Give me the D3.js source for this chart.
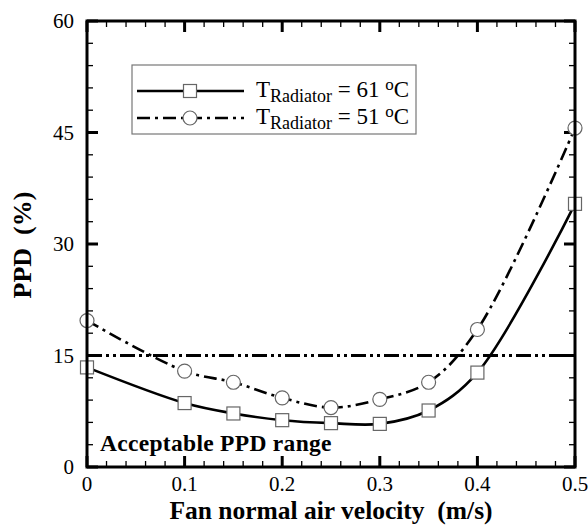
<!DOCTYPE html>
<html>
<head>
<meta charset="utf-8">
<script src="https://cdn.jsdelivr.net/npm/d3@7"></script>
<style>
  html, body { margin: 0; padding: 0; background: #fff; overflow: hidden; }
  text { font-family: "Liberation Serif", "Times New Roman", serif; }
</style>
</head>
<body>
<svg width="588" height="525"></svg>
<script>
// velocities (m/s)
var velocity = [0, 0.1, 0.15, 0.2, 0.25, 0.3, 0.35, 0.4, 0.5]
// PPD (%) for each radiator temperature
var ppd61 = [13.4, 8.6, 7.2, 6.3, 5.9, 5.8, 7.6, 12.7, 35.4]
var ppd51 = [19.7, 12.9, 11.4, 9.3, 8.0, 9.1, 11.4, 18.5, 45.6]
var acceptable = 15
var xTicks = [0, 0.1, 0.2, 0.3, 0.4, 0.5]
var yTicks = [0, 15, 30, 45, 60]

var svg = d3.select("svg")
var plotL = 87, plotR = 575, plotT = 21, plotB = 467

var x = d3.scaleLinear().domain([0, 0.5]).range([plotL, plotR])
var y = d3.scaleLinear().domain([0, 60]).range([plotB, plotT])

var xMinor = d3.range(0, 0.5001, 0.02)
var yMinor = d3.range(0, 60.001, 3)

//minor ticks, all four sides, pointing in
var ticks = svg.append("g").attr("stroke", "#000").attr("stroke-width", 1.3)
xMinor.forEach(function (v) {
  ticks.append("line").attr("x1", x(v)).attr("x2", x(v)).attr("y1", plotB).attr("y2", plotB - 6)
  ticks.append("line").attr("x1", x(v)).attr("x2", x(v)).attr("y1", plotT).attr("y2", plotT + 6)
})
yMinor.forEach(function (v) {
  ticks.append("line").attr("y1", y(v)).attr("y2", y(v)).attr("x1", plotL).attr("x2", plotL + 6)
  ticks.append("line").attr("y1", y(v)).attr("y2", y(v)).attr("x1", plotR).attr("x2", plotR - 6)
})
//major ticks
var major = svg.append("g").attr("stroke", "#000").attr("stroke-width", 3)
xTicks.forEach(function (v) {
  major.append("line").attr("x1", x(v)).attr("x2", x(v)).attr("y1", plotB).attr("y2", plotB - 11)
  major.append("line").attr("x1", x(v)).attr("x2", x(v)).attr("y1", plotT).attr("y2", plotT + 11)
})
yTicks.forEach(function (v) {
  major.append("line").attr("y1", y(v)).attr("y2", y(v)).attr("x1", plotL).attr("x2", plotL + 11)
  major.append("line").attr("y1", y(v)).attr("y2", y(v)).attr("x1", plotR).attr("x2", plotR - 11)
})

//tick labels
svg.append("g").selectAll("text").data(xTicks).join("text")
    .attr("x", d => x(d)).attr("y", plotB + 24)
    .attr("text-anchor", "middle").style("font-size", "21px")
    .text(d => d3.format("")(d))
svg.append("g").selectAll("text").data(yTicks).join("text")
    .attr("x", plotL - 13).attr("y", d => y(d) + 7)
    .attr("text-anchor", "end").style("font-size", "21px")
    .text(d => d)

//axis titles
svg.append("text").attr("x", 331).attr("y", 519)
    .attr("text-anchor", "middle")
    .style("font-size", "25.5px").style("font-weight", "bold")
    .attr("xml:space", "preserve")
    .text("Fan normal air velocity  (m/s)")
svg.append("text")
    .attr("transform", "translate(31,245) rotate(-90)")
    .attr("text-anchor", "middle")
    .style("font-size", "26px").style("font-weight", "bold")
    .attr("xml:space", "preserve")
    .text("PPD  (%)")

//acceptable limit line
svg.append("line")
    .attr("x1", x(0)).attr("x2", x(0.5)).attr("y1", y(acceptable)).attr("y2", y(acceptable))
    .attr("stroke", "#000").attr("stroke-width", 2.8)
    .attr("stroke-dasharray", "15,4,3,4,3,4")
svg.append("text").attr("x", 100).attr("y", 451)
    .style("font-size", "23.5px").style("font-weight", "bold")
    .style("letter-spacing", "0.3px")
    .text("Acceptable PPD range")

//curves
var line = d3.line().x(d => x(d[0])).y(d => y(d[1])).curve(d3.curveCatmullRom.alpha(0.5))
svg.append("path").datum(d3.zip(velocity, ppd61))
    .attr("d", line).attr("fill", "none").attr("stroke", "#000").attr("stroke-width", 2.6)
svg.append("path").datum(d3.zip(velocity, ppd51))
    .attr("d", line).attr("fill", "none").attr("stroke", "#000").attr("stroke-width", 2.6)
    .attr("stroke-dasharray", "13,5,3,5")

//markers
svg.append("g").selectAll("rect").data(d3.zip(velocity, ppd61)).join("rect")
    .attr("x", d => x(d[0]) - 6.5).attr("y", d => y(d[1]) - 6.5)
    .attr("width", 13).attr("height", 13)
    .attr("fill", "#fff").attr("stroke", "#666").attr("stroke-width", 1.2)
svg.append("g").selectAll("circle").data(d3.zip(velocity, ppd51)).join("circle")
    .attr("cx", d => x(d[0])).attr("cy", d => y(d[1])).attr("r", 7)
    .attr("fill", "#fff").attr("stroke", "#666").attr("stroke-width", 1.2)

//frame
svg.append("rect").attr("x", plotL).attr("y", plotT)
    .attr("width", plotR - plotL).attr("height", plotB - plotT)
    .attr("fill", "none").attr("stroke", "#000").attr("stroke-width", 3)

//legend
var legend = svg.append("g")
legend.append("rect").attr("x", 132).attr("y", 65).attr("width", 284).attr("height", 69)
    .attr("fill", "#fff").attr("stroke", "#777").attr("stroke-width", 1.2)
var entries = [
  {label: "61", dash: null, shape: "square", ly: 91},
  {label: "51", dash: "13,5,3,5", shape: "circle", ly: 118}
]
entries.forEach(function (e) {
  legend.append("line").attr("x1", 137).attr("x2", 244).attr("y1", e.ly).attr("y2", e.ly)
      .attr("stroke", "#000").attr("stroke-width", 2.6)
      .attr("stroke-dasharray", e.dash)
  if (e.shape == "square") {
    legend.append("rect").attr("x", 183.5).attr("y", e.ly - 6.5).attr("width", 13).attr("height", 13)
        .attr("fill", "#fff").attr("stroke", "#666").attr("stroke-width", 1.2)
  } else {
    legend.append("circle").attr("cx", 190).attr("cy", e.ly).attr("r", 7)
        .attr("fill", "#fff").attr("stroke", "#666").attr("stroke-width", 1.2)
  }
  var t = legend.append("text").attr("x", 256).attr("y", e.ly + 6).style("font-size", "23px")
  t.append("tspan").text("T")
  t.append("tspan").attr("dy", 5).style("font-size", "18px").text("Radiator")
  t.append("tspan").attr("dy", -5).text(" = " + e.label + " ")
  t.append("tspan").attr("dy", -7).style("font-size", "17px").text("o")
  t.append("tspan").attr("dy", 7).text("C")
})
</script>
</body>
</html>
